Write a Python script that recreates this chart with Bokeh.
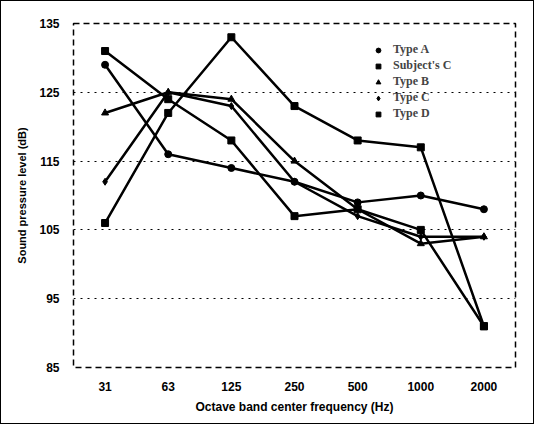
from bokeh.plotting import figure
from bokeh.models import FactorRange, Range1d, Legend, LegendItem, FixedTicker
from bokeh.embed import file_html
from bokeh.resources import INLINE

freqs = ["31", "63", "125", "250", "500", "1000", "2000"]
type_a = [129, 116, 114, 112, 109, 110, 108]
subject_c = [131, 124, 118, 107, 108, 105, 91]
type_b = [122, 125, 124, 115, 108, 103, 104]
type_c = [112, 125, 123, 112, 107, 104, 104]
type_d = [106, 122, 133, 123, 118, 117, 91]

series = [
    ("Type A", type_a, "circle"),
    ("Subject's C", subject_c, "square"),
    ("Type B", type_b, "triangle"),
    ("Type C", type_c, "diamond"),
    ("Type D", type_d, "square"),
]
y_ticks = [85, 95, 105, 115, 125, 135]

p = figure(width=534, height=424, x_range=FactorRange(*freqs), y_range=Range1d(85, 135),
           output_backend="svg", toolbar_location=None,
           min_border_left=72, min_border_right=20, min_border_top=22, min_border_bottom=58)
p.styles = {"border": "1px solid black"}

items = []
for name, vals, marker in series:
    p.line(freqs, vals, line_color="black", line_width=2.5)
    r = p.scatter(freqs, vals, marker=marker, size=7, fill_color="black", line_color="black")
    items.append(LegendItem(label=name, renderers=[r]))

legend = Legend(items=items, location=(298, 246), border_line_color=None,
                background_fill_alpha=0, label_text_font="Liberation Serif",
                label_text_font_style="bold", label_text_font_size="12px",
                glyph_width=14, glyph_height=12, spacing=1, label_height=12,
                padding=4, label_standoff=8)
p.add_layout(legend)

p.outline_line_color = "black"
p.outline_line_dash = "6 4"
p.outline_line_width = 1.5
p.xgrid.grid_line_color = None
p.ygrid.grid_line_color = "black"
p.ygrid.grid_line_dash = "2 5"
p.ygrid.grid_line_width = 1

p.yaxis.ticker = FixedTicker(ticks=y_ticks)
for ax in (p.xaxis[0], p.yaxis[0]):
    ax.axis_line_color = None
    ax.major_tick_line_color = None
    ax.minor_tick_line_color = None
    ax.major_label_text_font = "Liberation Sans"
    ax.major_label_text_font_style = "bold"
    ax.major_label_text_font_size = "12px"
    ax.major_label_text_color = "black"
    ax.axis_label_text_font = "Liberation Sans"
    ax.axis_label_text_font_style = "bold"
    ax.axis_label_text_color = "black"

p.xaxis.axis_label = "Octave band center frequency (Hz)"
p.xaxis.axis_label_text_font_size = "12px"
p.xaxis.major_label_standoff = 8
p.xaxis.axis_label_standoff = 6
p.yaxis.axis_label = "Sound pressure level (dB)"
p.yaxis.axis_label_text_font_size = "11px"
p.yaxis.major_label_standoff = 8
p.yaxis.axis_label_standoff = 8

open("out.html", "w").write(file_html(p, INLINE))
